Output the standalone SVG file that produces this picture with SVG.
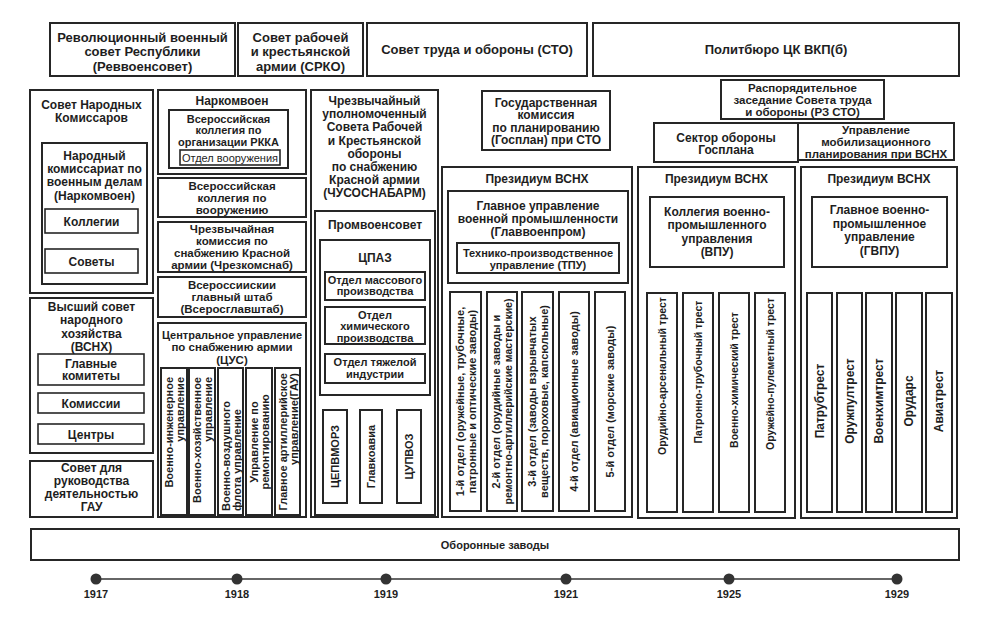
<svg xmlns="http://www.w3.org/2000/svg" width="987" height="619" viewBox="0 0 987 619">
<style>
.b{fill:#fff;stroke:#262626;stroke-width:2}
.s{fill:#fff;stroke:#262626;stroke-width:1.6}
text{font-family:"Liberation Sans",Arial,sans-serif;font-weight:bold;fill:#1e1e1e;text-anchor:middle}
.f13{font-size:13px}
.f12{font-size:12px}
.f115{font-size:11.5px}
.f11{font-size:11px}
.f105{font-size:10.5px}
.r{font-weight:normal;font-size:11px}
.st{text-anchor:start}
.en{text-anchor:end}
</style>
<rect width="987" height="619" fill="#fff"/>

<!-- top row -->
<g id="revvoensovet"><rect class="b" x="50" y="23" width="185" height="53"/>
<text class="f13" x="142.5" y="41.5">Революционный военный</text><text class="f13" x="142.5" y="56">совет Республики</text><text class="f13" x="142.5" y="70.5">(Реввоенсовет)</text></g>
<g id="srko"><rect class="b" x="238" y="23" width="125" height="53"/>
<text class="f13" x="300.5" y="41.5">Совет рабочей</text><text class="f13" x="300.5" y="56">и крестьянской</text><text class="f13" x="300.5" y="70.5">армии (СРКО)</text></g>
<g id="sto"><rect class="b" x="367" y="23" width="220" height="53"/>
<text class="f13" x="477" y="54">Совет труда и обороны (СТО)</text></g>
<g id="politburo"><rect class="b" x="593" y="23" width="366" height="53"/>
<text class="f13" x="776" y="54">Политбюро ЦК ВКП(б)</text></g>

<!-- column 1 -->
<g id="snk"><rect class="b" x="30" y="90" width="123" height="203"/>
<text class="f12" x="91.5" y="108.5">Совет Народных</text><text class="f12" x="91.5" y="121.5">Комиссаров</text>
<g id="narkomvoen1"><rect class="b" x="42" y="143" width="105" height="141"/>
<text class="f12" x="94.5" y="159.5">Народный</text><text class="f12" x="94.5" y="172.5">комиссариат по</text><text class="f12" x="94.5" y="186">военным делам</text><text class="f12" x="94.5" y="199.5">(Наркомвоен)</text>
<g id="kollegii"><rect class="s" x="45" y="209" width="93" height="24"/><text class="f12" x="91.5" y="225.5">Коллегии</text></g>
<g id="sovety"><rect class="s" x="45" y="249" width="93" height="24"/><text class="f12" x="91.5" y="265.5">Советы</text></g>
</g></g>
<g id="vsnh1"><rect class="b" x="30" y="298" width="123" height="155"/>
<text class="f12" x="91.5" y="311">Высший совет</text><text class="f12" x="91.5" y="324">народного</text><text class="f12" x="91.5" y="337.5">хозяйства</text><text class="f12" x="91.5" y="351">(ВСНХ)</text>
<g id="glavkomitety"><rect class="s" x="38" y="354" width="106" height="31"/><text class="f12" x="91" y="367.5">Главные</text><text class="f12" x="91" y="380">комитеты</text></g>
<g id="komissii"><rect class="s" x="38" y="393" width="106" height="20"/><text class="f12" x="91" y="407.5">Комиссии</text></g>
<g id="centry"><rect class="s" x="38" y="424" width="106" height="20"/><text class="f12" x="91" y="438.5">Центры</text></g>
</g>
<g id="sovet-gau"><rect class="b" x="30" y="461" width="123" height="56"/>
<text class="f12" x="91.5" y="472">Совет для</text><text class="f12" x="91.5" y="485">руководства</text><text class="f12" x="91.5" y="498">деятельностью</text><text class="f12" x="91.5" y="511">ГАУ</text></g>

<!-- column 2 -->
<g id="narkomvoen2"><rect class="b" x="158" y="90" width="148" height="84"/>
<text class="f12" x="232" y="104.5">Наркомвоен</text>
<g id="kollegia-rkka"><rect class="b" x="169" y="110" width="119" height="58"/>
<text class="f11" x="228.5" y="122.5">Всероссийская</text><text class="f11" x="228.5" y="134">коллегия по</text><text class="f11" x="228.5" y="145.5">организации РККА</text>
<g id="otdel-vooruzh"><rect class="s" x="180" y="150" width="100" height="15"/><text class="r" x="230" y="161.5">Отдел вооружения</text></g>
</g></g>
<g id="kollegia-vooruzh"><rect class="b" x="158" y="178" width="148" height="39"/>
<text class="f115" x="232" y="189.5">Всероссийская</text><text class="f115" x="232" y="201.5">коллегия по</text><text class="f115" x="232" y="213.5">вооружению</text></g>
<g id="chrezkomsnab"><rect class="b" x="158" y="222" width="148" height="50"/>
<text class="f115" x="232" y="233">Чрезвычайная</text><text class="f115" x="232" y="245">комиссия по</text><text class="f115" x="232" y="257">снабжению Красной</text><text class="f115" x="232" y="269">армии (Чрезкомснаб)</text></g>
<g id="vserosglavshtab"><rect class="b" x="158" y="277" width="148" height="40"/>
<text class="f115" x="232" y="289">Всероссиискии</text><text class="f115" x="232" y="301">главный штаб</text><text class="f115" x="232" y="313">(Всеросглавштаб)</text></g>
<g id="cus"><rect class="b" x="158" y="323" width="148" height="194"/>
<text class="f11" x="232" y="338.5">Центральное управление</text><text class="f115" x="232" y="351">по снабжению армии</text><text class="f115" x="232" y="363.5">(ЦУС)</text>
<g id="cus-1"><rect class="b" x="161" y="368" width="26" height="147"/>
<text class="f11 en" transform="translate(173,377) rotate(-90)">Военно-инженерное</text><text class="f11 en" transform="translate(184,377) rotate(-90)">управление</text></g>
<g id="cus-2"><rect class="b" x="189" y="368" width="26" height="147"/>
<text class="f11 en" transform="translate(201,377) rotate(-90)">Военно-хозяйственное</text><text class="f11 en" transform="translate(212,377) rotate(-90)">управление</text></g>
<g id="cus-3"><rect class="b" x="218" y="368" width="25" height="147"/>
<text class="f11 st" transform="translate(229.5,511) rotate(-90)">Военно-воздушного</text><text class="f11 st" transform="translate(240.5,511) rotate(-90)">флота управление</text></g>
<g id="cus-4"><rect class="b" x="246" y="368" width="26" height="147"/>
<text class="f11" transform="translate(258,442) rotate(-90)">Управление по</text><text class="f11" transform="translate(269,442) rotate(-90)">ремонтированию</text></g>
<g id="cus-5"><rect class="b" x="275" y="368" width="25" height="147"/>
<text class="f11 en" transform="translate(286.5,373) rotate(-90)">Главное артиллерийское</text><text class="f11 en" transform="translate(297.5,373) rotate(-90)">управление(ГАУ)</text></g>
</g>

<!-- column 3 -->
<g id="chusosnabarm"><rect class="b" x="311" y="90" width="127" height="427"/>
<text class="f12" x="374.5" y="104.5">Чрезвычайный</text><text class="f12" x="374.5" y="117.5">уполномоченный</text><text class="f12" x="374.5" y="131">Совета Рабочей</text><text class="f12" x="374.5" y="144.5">и Крестьянской</text><text class="f12" x="374.5" y="157.5">обороны</text><text class="f12" x="374.5" y="171">по снабжению</text><text class="f12" x="374.5" y="184">Красной армии</text><text class="f12" x="374.5" y="197">(ЧУСОСНАБАРМ)</text>
<g id="promvoensovet"><rect class="b" x="315" y="211" width="120" height="304"/>
<text class="f12" x="375" y="229">Промвоенсовет</text>
<g id="cpaz"><rect class="b" x="320" y="240" width="110" height="155"/>
<text class="f12" x="375" y="261.5">ЦПАЗ</text>
<g id="otdel-mass"><rect class="b" x="325" y="272" width="100" height="28"/><text class="f11" x="375" y="283.5">Отдел массового</text><text class="f11" x="375" y="295">производства</text></g>
<g id="otdel-him"><rect class="b" x="325" y="307" width="100" height="37"/><text class="f11" x="375" y="318.5">Отдел</text><text class="f11" x="375" y="330">химического</text><text class="f11" x="375" y="341.5">производства</text></g>
<g id="otdel-tyazh"><rect class="b" x="325" y="354" width="100" height="29"/><text class="f11" x="375" y="366">Отдел тяжелой</text><text class="f11" x="375" y="377.5">индустрии</text></g>
</g>
<g id="cepvmorz"><rect class="b" x="323" y="410" width="24" height="93"/><text class="f11" transform="translate(339,456.5) rotate(-90)">ЦЕПВМОРЗ</text></g>
<g id="glavkoavia"><rect class="b" x="360" y="410" width="22" height="93"/><text class="f11" transform="translate(375,456.5) rotate(-90)">Главкоавиа</text></g>
<g id="cupvoz"><rect class="b" x="397" y="410" width="24" height="93"/><text class="f11" transform="translate(413,456.5) rotate(-90)">ЦУПВОЗ</text></g>
</g></g>

<!-- column 4 -->
<g id="gosplan"><rect class="b" x="482" y="91" width="128" height="59"/>
<text class="f12" x="546" y="106.5">Государственная</text><text class="f12" x="546" y="119">комиссия</text><text class="f12" x="546" y="131.5">по планированию</text><text class="f12" x="546" y="144">(Госплан) при СТО</text></g>
<g id="prezidium1"><rect class="b" x="442" y="167" width="190" height="350"/>
<text class="f12" x="537" y="182.5">Президиум ВСНХ</text>
<g id="glavvoenprom"><rect class="b" x="448" y="191" width="180" height="92"/>
<text class="f12" x="538" y="209.5">Главное управление</text><text class="f12" x="538" y="222.5">военной промышленности</text><text class="f12" x="538" y="235.5">(Главвоенпром)</text>
<g id="tpu"><rect class="b" x="457" y="243" width="162" height="30"/><text class="f11" x="538" y="256.5">Технико-производственное</text><text class="f11" x="538" y="268.5">управление (ТПУ)</text></g>
</g>
<g id="otdel-1"><rect class="b" x="450" y="292" width="31" height="219"/>
<text class="f11" transform="translate(463.5,401.5) rotate(-90)">1-й отдел (оружейные, трубочные,</text><text class="f11" transform="translate(475.5,401.5) rotate(-90)">патронные и оптические заводы)</text></g>
<g id="otdel-2"><rect class="b" x="487" y="292" width="30" height="219"/>
<text class="f11" transform="translate(500,401.5) rotate(-90)">2-й отдел (орудийные заводы и</text><text class="f105" transform="translate(512,401.5) rotate(-90)">ремонтно-артиллерийские мастерские)</text></g>
<g id="otdel-3"><rect class="b" x="522" y="292" width="31" height="219"/>
<text class="f11" transform="translate(535.5,401.5) rotate(-90)">3-й отдел (заводы взрывчатых</text><text class="f11" transform="translate(547.5,401.5) rotate(-90)">веществ, пороховые, капсюльные)</text></g>
<g id="otdel-4"><rect class="b" x="559" y="292" width="30" height="219"/>
<text class="f11" transform="translate(578,401.5) rotate(-90)">4-й отдел (авиационные заводы)</text></g>
<g id="otdel-5"><rect class="b" x="595" y="292" width="30" height="219"/>
<text class="f11" transform="translate(614,401.5) rotate(-90)">5-й отдел (морские заводы)</text></g>
</g>

<!-- column 5 -->
<g id="rz-sto"><rect class="b" x="721" y="80" width="163" height="39"/>
<text class="f115" x="802.5" y="92">Распорядительное</text><text class="f115" x="802.5" y="104">заседание Совета труда</text><text class="f115" x="802.5" y="116">и обороны (РЗ СТО)</text></g>
<g id="sektor-oborony"><rect class="b" x="654" y="123" width="144" height="39"/>
<text class="f12" x="726" y="141.5">Сектор обороны</text><text class="f12" x="726" y="154">Госплана</text></g>
<g id="prezidium2"><rect class="b" x="638" y="167" width="157" height="351"/>
<text class="f12" x="716.5" y="182.5">Президиум ВСНХ</text>
<g id="vpu"><rect class="b" x="650" y="197" width="134" height="70"/>
<text class="f12" x="717" y="216">Коллегия военно-</text><text class="f12" x="717" y="229">промышленного</text><text class="f12" x="717" y="242.5">управления</text><text class="f12" x="717" y="256">(ВПУ)</text></g>
<g id="trest-1"><rect class="b" x="647" y="293" width="30" height="219"/><text class="f105" transform="translate(665.5,376) rotate(-90)">Орудийно-арсенальный трест</text></g>
<g id="trest-2"><rect class="b" x="683" y="293" width="30" height="219"/><text class="f105" transform="translate(701.5,372) rotate(-90)">Патронно-трубочный трест</text></g>
<g id="trest-3"><rect class="b" x="719" y="293" width="30" height="219"/><text class="f105" transform="translate(737.5,380) rotate(-90)">Военно-химический трест</text></g>
<g id="trest-4"><rect class="b" x="755" y="293" width="30" height="219"/><text class="f105" transform="translate(773.5,374) rotate(-90)">Оружейно-пулеметный трест</text></g>
</g>

<!-- column 6 -->
<g id="upr-mob"><rect class="b" x="798" y="123" width="156" height="37"/>
<text class="f115" x="876" y="133.5">Управление</text><text class="f115" x="876" y="145.5">мобилизационного</text><text class="f115" x="876" y="157.5">планирования при ВСНХ</text></g>
<g id="prezidium3"><rect class="b" x="801" y="167" width="156" height="351"/>
<text class="f12" x="879" y="182.5">Президиум ВСНХ</text>
<g id="gvpu"><rect class="b" x="812" y="197" width="135" height="70"/>
<text class="f12" x="879.5" y="214">Главное военно-</text><text class="f12" x="879.5" y="227.5">промышленное</text><text class="f12" x="879.5" y="241">управление</text><text class="f12" x="879.5" y="254.5">(ГВПУ)</text></g>
<g id="patrubtrest"><rect class="b" x="807" y="293" width="25" height="219"/><text class="f12" transform="translate(823.5,401) rotate(-90)">Патрубтрест</text></g>
<g id="oruzhpultrest"><rect class="b" x="837" y="293" width="25" height="219"/><text class="f12" transform="translate(853.5,401) rotate(-90)">Оружпултрест</text></g>
<g id="voenhimtrest"><rect class="b" x="866" y="293" width="26" height="219"/><text class="f12" transform="translate(883,401) rotate(-90)">Военхимтрест</text></g>
<g id="orudars"><rect class="b" x="896" y="293" width="26" height="219"/><text class="f12" transform="translate(913,401) rotate(-90)">Орударс</text></g>
<g id="aviatrest"><rect class="b" x="926" y="293" width="26" height="219"/><text class="f12" transform="translate(943,401) rotate(-90)">Авиатрест</text></g>
</g>

<!-- bottom -->
<g id="oboronnye-zavody"><rect class="b" x="31" y="529" width="928" height="31"/>
<text class="f11" x="495" y="549">Оборонные заводы</text></g>

<g id="connectors">
<line x1="96" y1="579" x2="897" y2="579" stroke="#333" stroke-width="1.5"/>
<g fill="#333">
<circle cx="96" cy="579" r="5.5"/><circle cx="237" cy="579" r="5.5"/><circle cx="386" cy="579" r="5.5"/><circle cx="566" cy="579" r="5.5"/><circle cx="729" cy="579" r="5.5"/><circle cx="897" cy="579" r="5.5"/>
</g>
<g class="f11">
<text x="96" y="598">1917</text><text x="237" y="598">1918</text><text x="386" y="598">1919</text><text x="566" y="598">1921</text><text x="729" y="598">1925</text><text x="897" y="598">1929</text>
</g>
</g>
</svg>
